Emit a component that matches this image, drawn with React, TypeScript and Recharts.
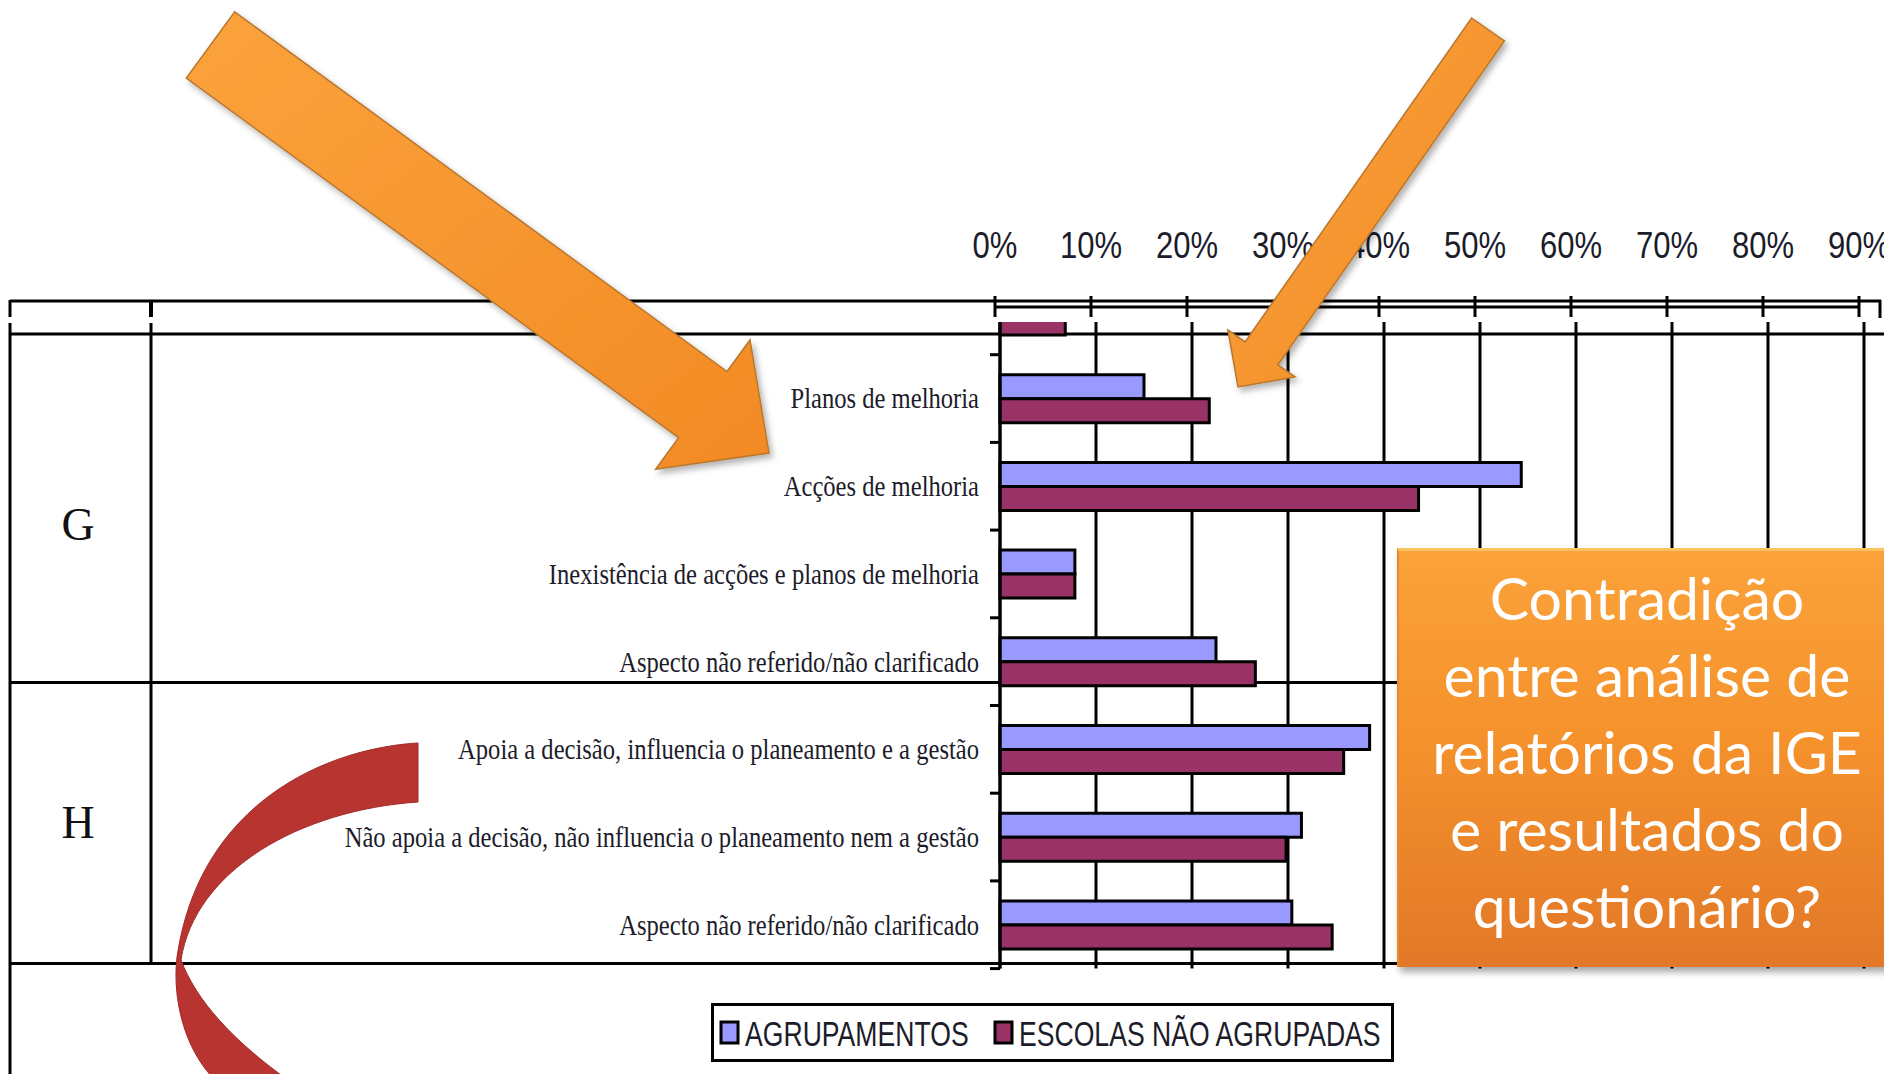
import React from "react";
import { BarChart, Bar, XAxis, YAxis, CartesianGrid, Legend } from "recharts";

// categories, top to bottom (the first one is cut off by the page above)
const categories = [
  "",
  "Planos de melhoria",
  "Acções de melhoria",
  "Inexistência de acções e planos de melhoria",
  "Aspecto não referido/não clarificado",
  "Apoia a decisão, influencia o planeamento e a gestão",
  "Não apoia a decisão, não influencia o planeamento nem a gestão",
  "Aspecto não referido/não clarificado",
];

// percentages
const agrupamentos = [null, 15.0, 54.3, 7.8, 22.5, 38.5, 31.4, 30.4];
const escolas = [6.8, 21.8, 43.6, 7.8, 26.6, 35.8, 29.8, 34.6];

const seriesNames = ["AGRUPAMENTOS", "ESCOLAS NÃO AGRUPADAS"];
const seriesColors = ["#9999FF", "#993366"];

const gridTicks = [0, 10, 20, 30, 40, 50, 60, 70, 80, 90, 100];
const topTicks = [0, 10, 20, 30, 40, 50, 60, 70, 80, 90];

const data = categories.map((cat, i) => ({
  cat,
  agrup: agrupamentos[i],
  escolas: escolas[i],
}));

const PLOT_TOP = 267.4;
const BAND = 87.7;
const PLOT_H = BAND * categories.length;
const CLIP_TOP = 322;

function CategoryTick(props: any) {
  const { x, y, payload, index } = props;
  const last = index === categories.length - 1;
  return (
    <g>
      <line x1={x - 10} x2={x} y1={y - BAND / 2} y2={y - BAND / 2} stroke="#000" strokeWidth={3} />
      {last && <line x1={x - 10} x2={x} y1={y + BAND / 2} y2={y + BAND / 2} stroke="#000" strokeWidth={3} />}
      <text
        transform={`translate(${x - 21},${y}) scale(0.82,1)`}
        textAnchor="end"
        dy="0.33em"
        fontSize={30}
        fontFamily="'Liberation Serif', 'Times New Roman', serif"
        fill="#1c1c2a"
      >
        {payload.value}
      </text>
    </g>
  );
}

function TopTick(props: any) {
  const { x, y, payload } = props;
  return (
    <g>
      <line x1={x} x2={x} y1={y - 11} y2={y + 11} stroke="#000" strokeWidth={3} />
      <text
        transform={`translate(${x},${y - 62}) scale(0.84,1)`}
        textAnchor="middle"
        dy="0.36em"
        fontSize={37}
        fontFamily="'Liberation Sans', Arial, sans-serif"
        fill="#1c1c2a"
      >
        {`${payload.value}%`}
      </text>
    </g>
  );
}

function LegendBox() {
  const starts = [10, 284];
  return (
    <svg width={683} height={59}>
      <rect x={1.5} y={1.5} width={680} height={56} fill="#fff" stroke="#000" strokeWidth={3} />
      {seriesNames.map((name, i) => (
        <g key={name}>
          <rect x={starts[i]} y={19} width={17} height={21} fill={seriesColors[i]} stroke="#000" strokeWidth={3} />
          <text
            transform={`translate(${starts[i] + 24},30) scale(0.76,1)`}
            dy="0.36em"
            fontSize={35}
            fontFamily="'Liberation Sans', Arial, sans-serif"
            fill="#1c1c2a"
          >
            {name}
          </text>
        </g>
      ))}
    </svg>
  );
}

const arrow1 = "234.7,11.9 727,371.5 750,340 769,453 655.6,469.2 678.6,437.7 186.3,78.1";
const arrow2 = "1471.6,18 1504.4,41 1277.9,364.9 1295.1,376.9 1238,387 1227.9,329.9 1245.1,341.9";
const redArrow =
  "M418,743 C330,748 200,800 177,957 C172,1000 185,1050 215,1080 L288,1080 C232,1040 196,1000 181,960 C195,870 300,810 418,802 Z";

export default function App() {
  return (
    <div
      style={{
        position: "absolute",
        left: 0,
        top: 0,
        width: 1884,
        height: 1074,
        overflow: "hidden",
        background: "#fff",
      }}
    >
      {/* table lines */}
      <svg width={1884} height={1074} style={{ position: "absolute", left: 0, top: 0 }}>
        <g stroke="#000" strokeWidth={3}>
          <line x1={10} x2={1881} y1={301} y2={301} />
          <line x1={10} x2={10} y1={300} y2={317} />
          <line x1={151} x2={151} y1={300} y2={317} strokeWidth={4} />
          <line x1={1880} x2={1880} y1={300} y2={318} />
          <line x1={10} x2={1884} y1={334} y2={334} />
          <line x1={10} x2={1884} y1={682.5} y2={682.5} />
          <line x1={10} x2={1884} y1={963.6} y2={963.6} />
          <line x1={10} x2={10} y1={323} y2={1074} />
          <line x1={151} x2={151} y1={323} y2={963.6} />
        </g>
        <g fontFamily="'Liberation Serif', 'Times New Roman', serif" fontSize={46} fill="#111" textAnchor="middle">
          <text x={78} y={524} dy="0.35em">G</text>
          <text x={78} y={822} dy="0.35em">H</text>
        </g>
      </svg>

      {/* bars, clipped at the top like the page */}
      <div style={{ position: "absolute", left: 0, top: CLIP_TOP, width: 1884, height: 1074 - CLIP_TOP, overflow: "hidden" }}>
        <div style={{ position: "absolute", left: 0, top: PLOT_TOP - CLIP_TOP }}>
          <BarChart
            width={1960}
            height={1074 - PLOT_TOP}
            data={data}
            layout="vertical"
            margin={{ top: 0, right: 0, left: 0, bottom: 1074 - PLOT_TOP - PLOT_H }}
            barSize={24}
            barGap={0}
          >
            <CartesianGrid vertical horizontal={false} stroke="#000" strokeWidth={3} />
            <XAxis type="number" domain={[0, 100]} ticks={gridTicks} hide />
            <YAxis
              type="category"
              dataKey="cat"
              width={1000}
              interval={0}
              tickSize={0}
              tickMargin={0}
              tickLine={false}
              axisLine={{ stroke: "#000", strokeWidth: 3 }}
              tick={<CategoryTick />}
            />
            <Bar dataKey="agrup" name={seriesNames[0]} fill={seriesColors[0]} stroke="#000" strokeWidth={3} isAnimationActive={false} />
            <Bar dataKey="escolas" name={seriesNames[1]} fill={seriesColors[1]} stroke="#000" strokeWidth={3} isAnimationActive={false} />
            <Legend
              layout="horizontal"
              verticalAlign="middle"
              align="center"
              wrapperStyle={{ left: 711, top: 1003 - PLOT_TOP, width: 683, height: 59 }}
              content={() => <LegendBox />}
            />
          </BarChart>
        </div>
      </div>

      {/* percentage axis at the top */}
      <div style={{ position: "absolute", left: 955, top: 187 }}>
        <BarChart
          width={944}
          height={130}
          data={data}
          layout="vertical"
          margin={{ top: 40, right: 40, left: 40, bottom: 0 }}
        >
          <XAxis
            type="number"
            orientation="top"
            domain={[0, 90]}
            allowDataOverflow
            ticks={topTicks}
            height={80}
            tickSize={0}
            tickMargin={0}
            tickLine={false}
            axisLine={{ stroke: "#000", strokeWidth: 3 }}
            tick={<TopTick />}
            interval={0}
          />
          <YAxis type="category" dataKey="cat" hide />
          <Bar dataKey="escolas" hide isAnimationActive={false} />
        </BarChart>
      </div>

      {/* callout box */}
      <div
        style={{
          position: "absolute",
          left: 1397,
          top: 548,
          width: 498,
          height: 419,
          boxSizing: "border-box",
          background: "linear-gradient(180deg, #FBA23A 0%, #F5922C 45%, #E27828 100%)",
          borderTop: "3px solid #FCC45E",
          borderLeft: "2px solid #E8892C",
          boxShadow: "3px 5px 7px rgba(0,0,0,0.35)",
          color: "#fff",
          fontFamily: "Lato, 'Open Sans', sans-serif",
          fontSize: 59,
          lineHeight: "77px",
          textAlign: "center",
          paddingTop: 8,
        }}
      >
        Contradição
        <br />
        entre análise de
        <br />
        relatórios da IGE
        <br />
        e resultados do
        <br />
        questionário?
      </div>

      {/* arrows */}
      <svg width={1884} height={1074} style={{ position: "absolute", left: 0, top: 0, pointerEvents: "none" }}>
        <defs>
          <linearGradient id="og" x1="0" y1="0" x2="1" y2="1">
            <stop offset="0%" stopColor="#FBA33C" />
            <stop offset="100%" stopColor="#F28A24" />
          </linearGradient>
          <filter id="sh" x="-10%" y="-10%" width="130%" height="130%">
            <feDropShadow dx="3" dy="4" stdDeviation="3" floodColor="#000" floodOpacity="0.3" />
          </filter>
        </defs>
        <polygon points={arrow1} fill="url(#og)" stroke="#B9772E" strokeWidth={1.5} filter="url(#sh)" />
        <polygon points={arrow2} fill="url(#og)" stroke="#B9772E" strokeWidth={1.5} filter="url(#sh)" />
        <path d={redArrow} fill="#B83430" stroke="#A22B28" strokeWidth={1} />
      </svg>
    </div>
  );
}
